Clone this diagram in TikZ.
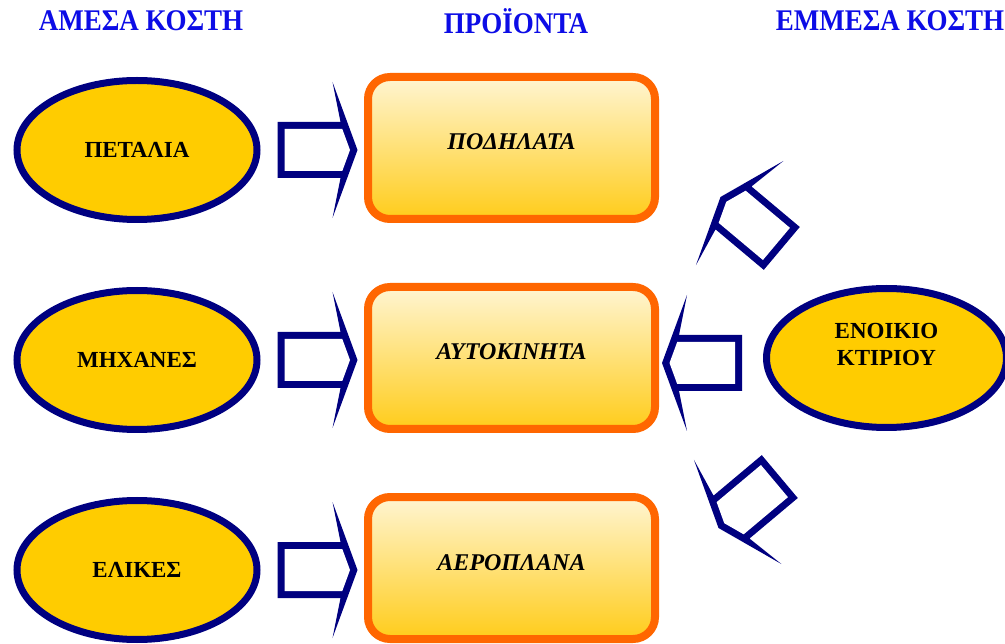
\documentclass[tikz,border=0pt]{standalone}
\usepackage{fontspec}
\setmainfont{Liberation Serif}
\newfontfamily\headfont{Liberation Serif}[FakeStretch=0.9]
\usepackage{tikz}
\usetikzlibrary{positioning,shapes.geometric}
\definecolor{headblue}{HTML}{0C0CE6}
\definecolor{navyline}{HTML}{000080}
\definecolor{ellgold}{HTML}{FFCC00}
\definecolor{boxorange}{HTML}{FF6600}
\definecolor{boxtop}{HTML}{FFF5D2}
\definecolor{boxbottom}{HTML}{FFCC1A}

\begin{document}
\begin{tikzpicture}[x=1pt, y=-1pt,
    every node/.style={text=black},
    head/.style={font=\headfont\fontsize{30}{32}\selectfont\bfseries, text=headblue},
    cost/.style={
      ellipse, draw=navyline, line width=7pt, fill=ellgold,
      minimum width=240pt, minimum height=139pt, inner sep=0pt,
      font=\fontsize{23}{27}\selectfont\bfseries, align=center
    },
    prod/.style={
      rectangle, rounded corners=22pt, draw=boxorange, line width=8pt,
      top color=boxtop, bottom color=boxbottom,
      minimum width=287pt, minimum height=142pt,
      font=\fontsize{24}{28}\selectfont\bfseries\itshape,
      text height=17pt, text depth=13pt
    },
    blockarr/.pic={
      \fill[navyline] (0,0) -- (-25,68) -- (-17,28) -- (-80,28) -- (-80,-28)
        -- (-17,-28) -- (-25,-68) -- cycle;
      \fill[white] (-7.5,0) -- (-15.2,21) -- (-73,21) -- (-73,-21) -- (-15.2,-21) -- cycle;
    }
  ]
  \useasboundingbox (0,0) rectangle (1005,644);

  \node[head] (h1) at (141,21) {ΑΜΕΣΑ ΚΟΣΤΗ};
  \node[head] (h2) at (516,21) {ΠΡΟΪΟΝΤΑ};
  \node[head] (h3) at (890,21) {ΕΜΜΕΣΑ ΚΟΣΤΗ};

  \node[cost] (e1) at (137,150) {ΠΕΤΑΛΙΑ};
  \node[cost, below=64pt of e1] (e2) {ΜΗΧΑΝΕΣ};
  \node[cost, below=64pt of e2] (e3) {ΕΛΙΚΕΣ};

  \node[prod] (b1) at (511.5,148) {ΠΟΔΗΛΑΤΑ};
  \node[prod, below=60pt of b1] (b2) {ΑΥΤΟΚΙΝΗΤΑ};
  \node[prod, below=60pt of b2] (b3) {ΑΕΡΟΠΛΑΝΑ};

  \node[cost, right=104pt of b2, text depth=27pt] (e4) {ΕΝΟΙΚΙΟ\\ΚΤΙΡΙΟΥ};

  \pic at ([xshift=97pt]e1.east) {blockarr};
  \pic at ([xshift=97pt]e2.east) {blockarr};
  \pic at ([xshift=97pt]e3.east) {blockarr};
  \pic[rotate=180] at ([xshift=3pt,yshift=-5pt]b2.east) {blockarr};
  \pic[rotate=140] at ([shift={(-166,-161)}]e4.center) {blockarr};
  \pic[rotate=220] at ([shift={(-168,170)}]e4.center) {blockarr};
\end{tikzpicture}
\end{document}
